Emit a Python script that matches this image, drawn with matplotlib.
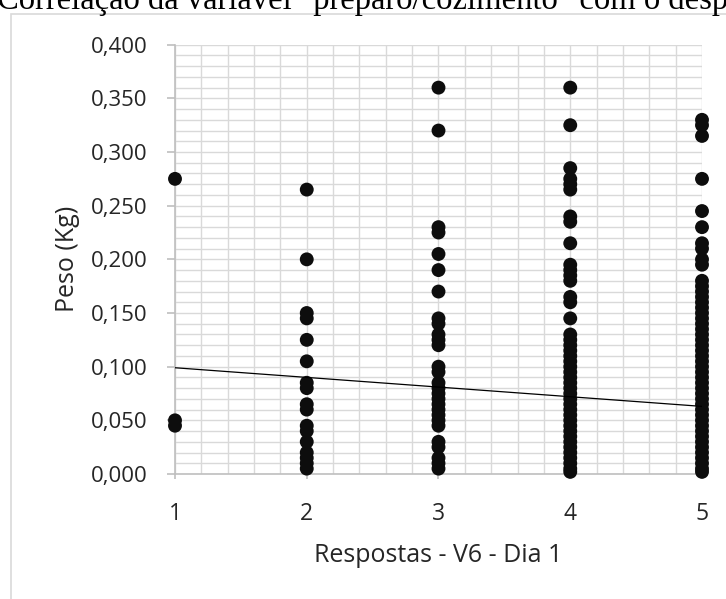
import matplotlib
matplotlib.use("Agg")
import matplotlib.pyplot as plt
from matplotlib.ticker import MultipleLocator, FuncFormatter
from matplotlib.patches import Rectangle

# Responses (x) and weights in kg (y) for each response level
resp_1 = [0.275, 0.050, 0.045]
resp_2 = [0.265, 0.200, 0.150, 0.145, 0.125, 0.105, 0.085, 0.080, 0.065,
          0.060, 0.045, 0.040, 0.030, 0.020, 0.015, 0.010, 0.005]
resp_3 = [0.360, 0.320, 0.230, 0.225, 0.205, 0.190, 0.170, 0.145, 0.140,
          0.130, 0.125, 0.120, 0.100, 0.095, 0.085, 0.080, 0.075, 0.070,
          0.065, 0.060, 0.055, 0.050, 0.045, 0.030, 0.025, 0.015, 0.010,
          0.005]
resp_4 = [0.360, 0.325, 0.285, 0.275, 0.270, 0.265, 0.240, 0.235, 0.215,
          0.195, 0.190, 0.185, 0.180, 0.165, 0.160, 0.145, 0.130, 0.125,
          0.120, 0.115, 0.110, 0.105, 0.100, 0.095, 0.090, 0.085, 0.080,
          0.075, 0.070, 0.065, 0.060, 0.055, 0.050, 0.045, 0.040, 0.035,
          0.030, 0.025, 0.020, 0.015, 0.010, 0.005, 0.002]
resp_5 = [0.330, 0.325, 0.315, 0.275, 0.245, 0.230, 0.215, 0.210, 0.200,
          0.195, 0.180, 0.175, 0.170, 0.165, 0.160, 0.155, 0.150, 0.145,
          0.140, 0.135, 0.130, 0.125, 0.120, 0.115, 0.110, 0.105, 0.100,
          0.095, 0.090, 0.085, 0.080, 0.075, 0.070, 0.065, 0.060, 0.055,
          0.050, 0.045, 0.040, 0.035, 0.030, 0.025, 0.020, 0.015, 0.010,
          0.005, 0.002]
responses = [1, 2, 3, 4, 5]
weights = [resp_1, resp_2, resp_3, resp_4, resp_5]

# Linear trend line coefficients
trend_slope = -0.009
trend_intercept = 0.108

title = "Correlação da variável \"preparo/cozimento\" com o desperdício"
x_label = "Respostas - V6 - Dia 1"
y_label = "Peso (Kg)"

ui_font = ["Open Sans", "DejaVu Sans"]
grid_color = "#d9d9d9"
axis_color = "#bfbfbf"
text_color = "#262626"
dot_color = "#0d0d0d"

fig = plt.figure(figsize=(7.26, 5.99), dpi=100)
fig.patch.set_facecolor("white")

# Chart frame
fig.patches.append(Rectangle((11 / 726, -0.05), 1.2, 1 - 14 / 599 + 0.05,
                             transform=fig.transFigure, fill=False,
                             edgecolor=grid_color, linewidth=1.2))

# Title line above the frame (partly cut by the top edge)
fig.text(-3 / 726, 1 - 9 / 599, title, family=["Liberation Serif"],
         fontsize=23.5, color="black", ha="left", va="baseline")

ax = fig.add_axes([175 / 726, 1 - 474 / 599, (702 - 175) / 726, (474 - 44.7) / 599])
ax.set_xlim(1, 5)
ax.set_ylim(0, 0.4)

ax.xaxis.set_major_locator(MultipleLocator(1))
ax.xaxis.set_minor_locator(MultipleLocator(0.2))
ax.yaxis.set_major_locator(MultipleLocator(0.05))
ax.yaxis.set_minor_locator(MultipleLocator(0.01))
ax.yaxis.set_major_formatter(FuncFormatter(lambda v, p: f"{v:.3f}".replace(".", ",")))
ax.xaxis.set_major_formatter(FuncFormatter(lambda v, p: f"{int(round(v))}"))

ax.grid(True, which="both", color=grid_color, linewidth=1.0)
ax.set_axisbelow(True)

for side in ("top", "right"):
    ax.spines[side].set_visible(False)
for side in ("left", "bottom"):
    ax.spines[side].set_color(axis_color)
    ax.spines[side].set_linewidth(1.2)

ax.tick_params(axis="y", which="major", length=5.8, width=1.2, color=axis_color,
               pad=14, labelsize=16, labelcolor=text_color)
ax.tick_params(axis="x", which="major", length=3.6, width=1.2, color=axis_color,
               pad=16.5, labelsize=16.5, labelcolor=text_color)
ax.tick_params(which="minor", length=0)
for lab in ax.get_xticklabels() + ax.get_yticklabels():
    lab.set_family(ui_font)

for x, ys in zip(responses, weights):
    ax.scatter([x] * len(ys), ys, s=100, color=dot_color, edgecolors="none",
               zorder=3, clip_on=False)

xs = [responses[0], responses[-1]]
ax.plot(xs, [trend_intercept + trend_slope * x for x in xs], color="black",
        linewidth=0.9, zorder=4)

ax.set_xlabel(x_label, family=ui_font, fontsize=18, color=text_color,
              va="center")
ax.set_ylabel(y_label, family=ui_font, fontsize=18, color=text_color,
              va="center")
ax.xaxis.set_label_coords(0.5, -(555 - 474) / 429.3)
ax.yaxis.set_label_coords(-(175 - 67) / 527, 0.5)

fig.savefig("out.png", dpi=100, facecolor="white")
